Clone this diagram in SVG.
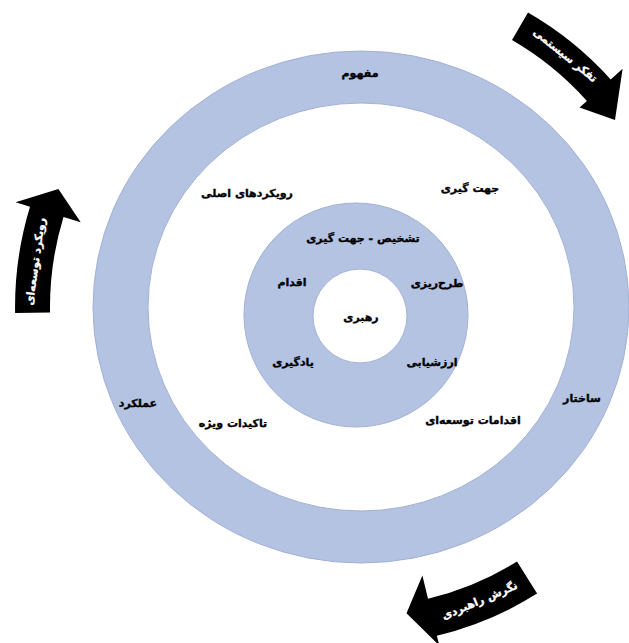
<svg xmlns="http://www.w3.org/2000/svg" width="629" height="643" viewBox="0 0 629 643">
<style>
.ring{fill:#b4c3e2;stroke:#a2b1d4;stroke-width:1}
.hole{fill:#ffffff;stroke:#a2b1d4;stroke-width:1}
.lbl{font-family:"DejaVu Sans",sans-serif;font-weight:bold;font-size:11px;fill:#000;stroke:#000;stroke-width:0.35;text-anchor:middle}
.arr{fill:#000}
.alb{font-family:"DejaVu Sans",sans-serif;font-weight:bold;font-size:11px;fill:#fff;stroke:#fff;stroke-width:0.3;text-anchor:middle}
</style>
<rect width="629" height="643" fill="#fff"/>
<g id="outer-ring">
<ellipse class="ring" cx="361" cy="307" rx="268" ry="256"/>
<ellipse class="hole" cx="361" cy="307" rx="213" ry="204"/>
</g>
<g id="inner-ring">
<circle class="ring" cx="356" cy="315" r="112"/>
<circle class="hole" cx="360" cy="316" r="47"/>
</g>
<g id="connectors">
<path class="arr" d="M528,12.6 A340,340 0 0 1 610.7,79.5 L622.6,68.8 L615,120 L579.5,107.6 L586.9,100.9 A308,308 0 0 0 512,40 Z"/>
<path class="arr" d="M15.1,313 A343,343 0 0 1 30,206.7 L15.6,202.3 L58.4,189 L80.7,222.2 L63.5,216.9 A308,308 0 0 0 50.05,312.4 Z"/>
<path class="arr" d="M537.1,593.6 A338,338 0 0 1 436.9,635.7 L439.2,645.4 L406.5,613.2 L422.4,575.4 L428,598.7 A300,300 0 0 0 517,561.4 Z"/>
</g>
<g id="arrow-labels">
<text class="alb" transform="translate(563,58) rotate(39)">تفکر سیستمی</text>
<text class="alb" transform="translate(39,262) rotate(-82)">رویکرد توسعه‌ای</text>
<text class="alb" transform="translate(481,604) rotate(-23)">نگرش راهبردی</text>
</g>
<g id="node-mafhoom"><text class="lbl" x="360" y="77">مفهوم</text></g>
<g id="node-sakhtar"><text class="lbl" x="582" y="402">ساختار</text></g>
<g id="node-amalkard"><text class="lbl" x="138" y="407">عملکرد</text></g>
<g id="node-jahatgiri"><text class="lbl" x="470" y="192">جهت گیری</text></g>
<g id="node-rooykard"><text class="lbl" x="247" y="197">رویکردهای اصلی</text></g>
<g id="node-takidat"><text class="lbl" x="233" y="427">تاکیدات ویژه</text></g>
<g id="node-eghdamat"><text class="lbl" x="473" y="424">اقدامات توسعه‌ای</text></g>
<g id="node-tashkhis"><text class="lbl" x="363" y="242">تشخیص - جهت گیری</text></g>
<g id="node-eghdam"><text class="lbl" x="292" y="286">اقدام</text></g>
<g id="node-tarhrizi"><text class="lbl" x="437" y="287">طرح‌ریزی</text></g>
<g id="node-arzeshyabi"><text class="lbl" x="432" y="366">ارزشیابی</text></g>
<g id="node-yadgiri"><text class="lbl" x="293" y="366">یادگیری</text></g>
<g id="node-rahbari"><text class="lbl" x="361" y="321">رهبری</text></g>
</svg>
